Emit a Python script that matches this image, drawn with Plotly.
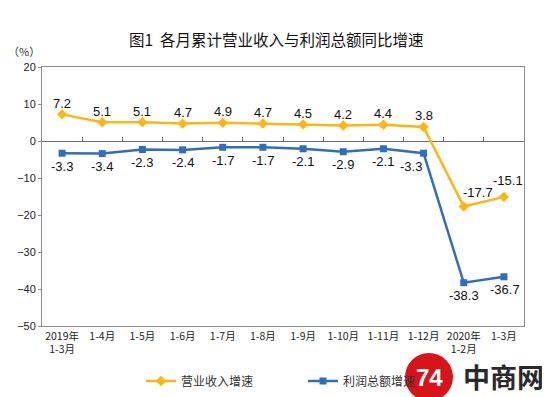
import plotly.graph_objects as go

categories = ["2019年<br>1-3月", "1-4月", "1-5月", "1-6月", "1-7月", "1-8月", "1-9月",
              "1-10月", "1-11月", "1-12月", "2020年<br>1-2月", "1-3月"]
revenue = [7.2, 5.1, 5.1, 4.7, 4.9, 4.7, 4.5, 4.2, 4.4, 3.8, -17.7, -15.1]
profit = [-3.3, -3.4, -2.3, -2.4, -1.7, -1.7, -2.1, -2.9, -2.1, -3.3, -38.3, -36.7]
y_ticks = [20, 10, 0, -10, -20, -30, -40, -50]

ORANGE = "#FFB50F"
BLUE = "#2F6DBE"
CJK = "Noto Sans CJK SC"
NUM = "Liberation Sans, Arial"

# label offsets (pixels) relative to each point
rev_dx = [0] * 10 + [14, 4]
rev_dy = [11] * 10 + [14, 16]
pro_dx = [0] * 9 + [-13, 0, 1]
pro_dy = [-13] * 12

# page body has an 8px default margin, so the figure is drawn 8px in from the window corner
OFF = 8
W, H = 550 - OFF, 397 - OFF
# plot area in window pixels: left 42, right 524, top 67, bottom 326
L, T = 42 - OFF, 67 - OFF
R, B = W - (524 - OFF), H - (326 - OFF)
PW, PH = W - L - R, H - T - B


def px(x):
    return (x - OFF - L) / PW


def py(y):
    return (H - B - (y - OFF)) / PH


xs = list(range(len(categories)))
fig = go.Figure()
fig.add_trace(go.Scatter(
    x=xs, y=revenue, name="营业收入增速", mode="lines+markers",
    line=dict(color=ORANGE, width=2.5),
    marker=dict(symbol="diamond", size=8, color=ORANGE),
))
fig.add_trace(go.Scatter(
    x=xs, y=profit, name="利润总额增速", mode="lines+markers",
    line=dict(color=BLUE, width=2.5),
    marker=dict(symbol="square", size=7, color=BLUE),
))
# invisible trace on the overlay axis to show tick marks on the zero line
fig.add_trace(go.Scatter(x=[-0.5, len(categories) - 0.5], y=[0, 0], xaxis="x2",
                         mode="lines", line=dict(width=0), showlegend=False, hoverinfo="skip"))

labels = []
for vals, dxs, dys in ((revenue, rev_dx, rev_dy), (profit, pro_dx, pro_dy)):
    for i, v in enumerate(vals):
        labels.append(dict(x=i, y=v, xref="x", yref="y", text=f"{v:.1f}", showarrow=False,
                           xshift=dxs[i], yshift=dys[i], xanchor="center", yanchor="middle",
                           font=dict(family=NUM, size=13, color="#111")))

fig.update_layout(
    width=W, height=H,
    margin=dict(l=L, r=R, t=T, b=B, autoexpand=False),
    paper_bgcolor="white", plot_bgcolor="white",
    font=dict(family=CJK, color="#222"),
    showlegend=True,
    legend=dict(orientation="h", x=px(141), y=py(381), xanchor="left", yanchor="middle",
                font=dict(family=CJK, size=12, color="#333"), entrywidth=117,
                itemwidth=30, bgcolor="rgba(0,0,0,0)"),
    xaxis=dict(
        range=[-0.5, len(categories) - 0.5], automargin=False,
        tickmode="array", tickvals=xs, ticktext=categories,
        tickfont=dict(family=CJK, size=10.5, color="#222"),
        showgrid=False, zeroline=False, showline=True, linecolor="#8c8c8c", linewidth=1,
        mirror=True, ticks="",
    ),
    xaxis2=dict(
        overlaying="x", anchor="free", position=50 / 70,
        range=[-0.5, len(categories) - 0.5],
        tickmode="array", tickvals=[i + 0.5 for i in range(len(categories) - 1)],
        ticks="inside", ticklen=4, tickcolor="#6e6e6e", showticklabels=False,
        showgrid=False, zeroline=False, showline=False,
    ),
    yaxis=dict(
        range=[-50, 20], tickmode="array", tickvals=y_ticks, automargin=False,
        tickfont=dict(family=NUM, size=11, color="#222"),
        showgrid=False, zeroline=True, zerolinecolor="#6e6e6e", zerolinewidth=1,
        showline=True, linecolor="#8c8c8c", linewidth=1, mirror=True,
        ticks="outside", ticklen=3, tickcolor="#8c8c8c",
    ),
    shapes=[
        dict(type="circle", xref="paper", yref="paper",
             x0=px(405), x1=px(453), y0=py(401), y1=py(353),
             fillcolor="#D7141A", line=dict(width=0), layer="above"),
    ],
    annotations=labels + [
        dict(text="图1  各月累计营业收入与利润总额同比增速", xref="paper", yref="paper",
             x=px(276.5), y=py(39), xanchor="center", yanchor="middle",
             showarrow=False, font=dict(family=CJK, size=15.5, color="#111")),
        dict(text="（%）", xref="paper", yref="paper", x=px(6), y=py(51),
             xanchor="left", yanchor="middle", showarrow=False,
             font=dict(family=CJK, size=11, color="#333")),
        dict(text="<b>74</b>", xref="paper", yref="paper", x=px(429), y=py(377),
             xanchor="center", yanchor="middle", showarrow=False,
             font=dict(family="Liberation Sans, Arial", size=24, color="white")),
        dict(text="<b>中商网</b>", xref="paper", yref="paper", x=px(546),
             y=py(376), xanchor="right", yanchor="middle", showarrow=False,
             font=dict(family=CJK, size=27, color="#2a2a2a")),
    ],
)

fig.write_html("out.html")
